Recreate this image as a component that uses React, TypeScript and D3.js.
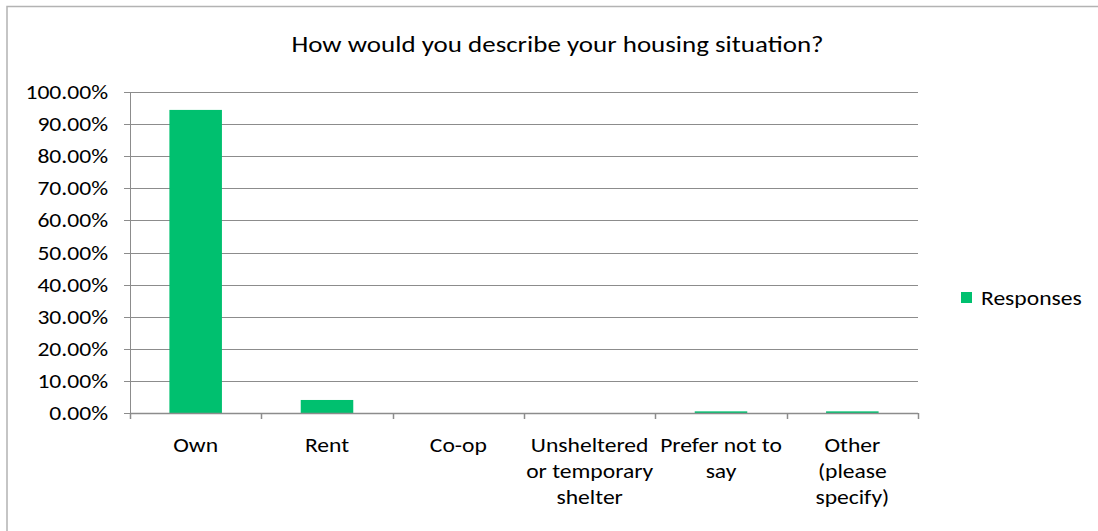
import React from "react";
import * as d3 from "d3";

const categories = ["Own", "Rent", "Co-op", "Unsheltered or temporary shelter", "Prefer not to say", "Other (please specify)"];
const categoryLines = [["Own"], ["Rent"], ["Co-op"], ["Unsheltered", "or temporary", "shelter"], ["Prefer not to", "say"], ["Other", "(please", "specify)"]];
const responses = [0.9442, 0.0406, 0, 0, 0.0051, 0.0051];
const yTicks = [0, 0.1, 0.2, 0.3, 0.4, 0.5, 0.6, 0.7, 0.8, 0.9, 1.0];
const title = "How would you describe your housing situation?";
const seriesName = "Responses";

const W = 1098, H = 531;
const plot = { left: 130, right: 918, top: 92, bottom: 413 };
const FONT = "Carlito, Calibri, Lato, 'Open Sans', sans-serif";
const GREEN = "#00c06f";
const SX = 1.21;
const FS = 19.5;

function T({ x, y, anchor, size, children }: { x: number; y: number; anchor?: string; size: number; children: React.ReactNode }) {
  return (
    <g transform={`translate(${x},${y}) scale(${SX},1)`}>
      <text x={0} y={0} textAnchor={anchor || "start"} fontSize={size} fill="#000">{children}</text>
    </g>
  );
}

export default function App() {
  const x = d3.scaleBand<string>().domain(categories).range([plot.left, plot.right]).paddingInner(0.6).paddingOuter(0.3);
  const xb = d3.scaleBand<string>().domain(categories).range([plot.left, plot.right]);
  const y = d3.scaleLinear().domain([0, 1]).range([plot.bottom, plot.top]);
  const fmt = d3.format(".2%");
  return (
    <svg width={W} height={H} style={{ position: "absolute", left: 0, top: 0 }} fontFamily={FONT}>
      <rect x={0} y={0} width={W} height={H} fill="#fff" />
      <rect x={7} y={6.5} width={W + 10} height={H + 10} fill="none" stroke="#b3b3b3" strokeWidth={1.5} />
      <T x={557.5} y={52} anchor="middle" size={22.3}>{title}</T>
      {yTicks.map((t) => (
        <g key={t}>
          <line x1={plot.left - 6} x2={plot.right} y1={Math.round(y(t)) + 0.5} y2={Math.round(y(t)) + 0.5} stroke="#8c8c8c" strokeWidth={1} />
          <T x={108} y={y(t) + 7} anchor="end" size={FS}>{fmt(t)}</T>
        </g>
      ))}
      <line x1={plot.left + 0.5} x2={plot.left + 0.5} y1={plot.top} y2={plot.bottom} stroke="#8c8c8c" />
      {categories.map((c, i) => (
        <rect key={c} x={x(c)} y={y(responses[i])} width={x.bandwidth()} height={y(0) - y(responses[i])} fill={GREEN} />
      ))}
      <line x1={plot.left} x2={plot.right} y1={plot.bottom + 0.5} y2={plot.bottom + 0.5} stroke="#8c8c8c" strokeWidth={1.5} />
      {[...categories.map((c) => xb(c) as number), plot.right].map((t, i) => (
        <line key={i} x1={Math.round(t) + 0.5} x2={Math.round(t) + 0.5} y1={plot.bottom} y2={plot.bottom + 6} stroke="#8c8c8c" strokeWidth={1.5} />
      ))}
      {categories.map((c, i) => {
        const cx = (xb(c) as number) + xb.bandwidth() / 2;
        return (
          <g key={c}>
            {categoryLines[i].map((l, j) => (
              <T key={j} x={cx} y={452 + j * 26} anchor="middle" size={FS}>{l}</T>
            ))}
          </g>
        );
      })}
      <rect x={961} y={292} width={11} height={11} fill={GREEN} />
      <T x={981} y={305} size={FS}>{seriesName}</T>
    </svg>
  );
}
